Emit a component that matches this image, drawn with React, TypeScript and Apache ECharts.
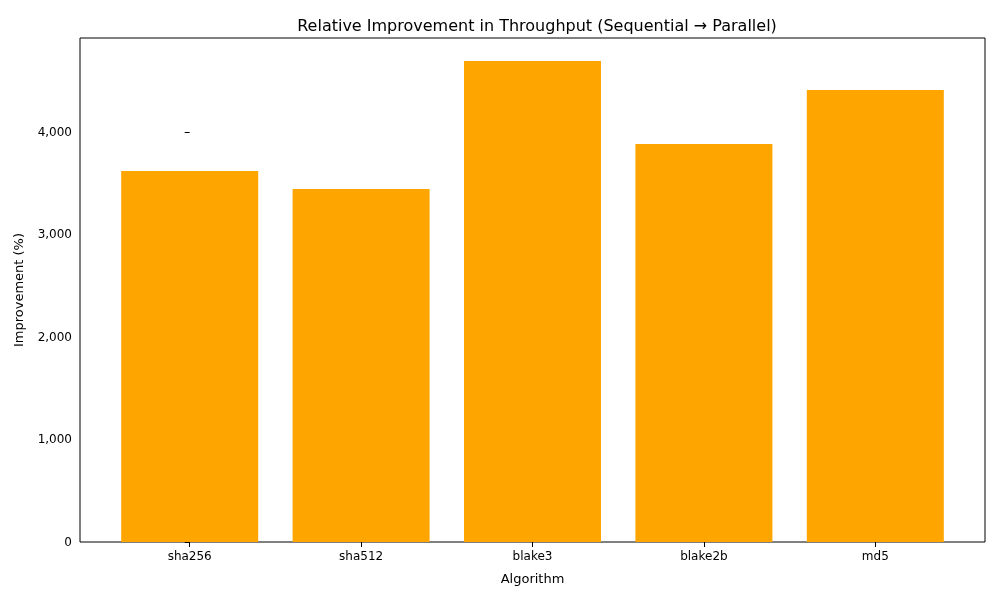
import * as echarts from 'echarts';
import { useEffect, useRef } from 'react';

const ALGORITHMS = ['sha256', 'sha512', 'blake3', 'blake2b', 'md5'];
const IMPROVEMENT = [3620, 3444, 4693, 3883, 4410];
const Y_TICKS = [0, 1000, 2000, 3000, 4000];

export default function App() {
  const ref = useRef<HTMLDivElement | null>(null);

  useEffect(() => {
    if (!ref.current) return undefined;
    const chart = echarts.init(ref.current, undefined, { renderer: 'svg' });
    const font = 'DejaVu Sans';
    const xs = ALGORITHMS.map((_, i) => i);
    chart.setOption({
      animation: false,
      textStyle: { fontFamily: font },
      title: {
        text: 'Relative Improvement in Throughput (Sequential → Parallel)',
        left: 532,
        textAlign: 'center',
        top: 12,
        textStyle: { fontSize: 16, fontWeight: 'normal', color: '#000', fontFamily: font },
      },
      grid: { left: 80, right: 15, top: 38, bottom: 58, show: true, borderColor: '#000', borderWidth: 1 },
      xAxis: {
        type: 'value',
        min: -0.64,
        max: 4.64,
        name: 'Algorithm',
        nameLocation: 'middle',
        nameGap: 30,
        nameTextStyle: { fontSize: 13, color: '#000' },
        splitLine: { show: false },
        axisLine: { show: false },
        axisTick: { show: true, customValues: xs, length: 5, lineStyle: { color: '#000' } },
        axisLabel: {
          customValues: xs,
          formatter: (v: number) => ALGORITHMS[Math.round(v)] ?? '',
          fontSize: 12,
          color: '#000',
          margin: 8,
        },
      },
      yAxis: {
        type: 'value',
        min: 0,
        max: 4917,
        name: 'Improvement (%)',
        nameLocation: 'middle',
        nameGap: 55,
        nameTextStyle: { fontSize: 13, color: '#000' },
        splitLine: { show: false },
        axisLine: { show: false },
        axisTick: { show: true, customValues: Y_TICKS, length: 5, inside: false, lineStyle: { color: '#000' } },
        axisLabel: { customValues: Y_TICKS, fontSize: 12, color: '#000', margin: 8 },
      },
      series: [
        {
          type: 'bar',
          data: IMPROVEMENT.map((v, i) => [i, v]),
          barWidth: 137,
          itemStyle: { color: '#ffa500' },
        },
      ],
    });
    return () => chart.dispose();
  }, []);

  return <div ref={ref} style={{ position: 'fixed', left: 0, top: 0, width: 1000, height: 600 }} />;
}
